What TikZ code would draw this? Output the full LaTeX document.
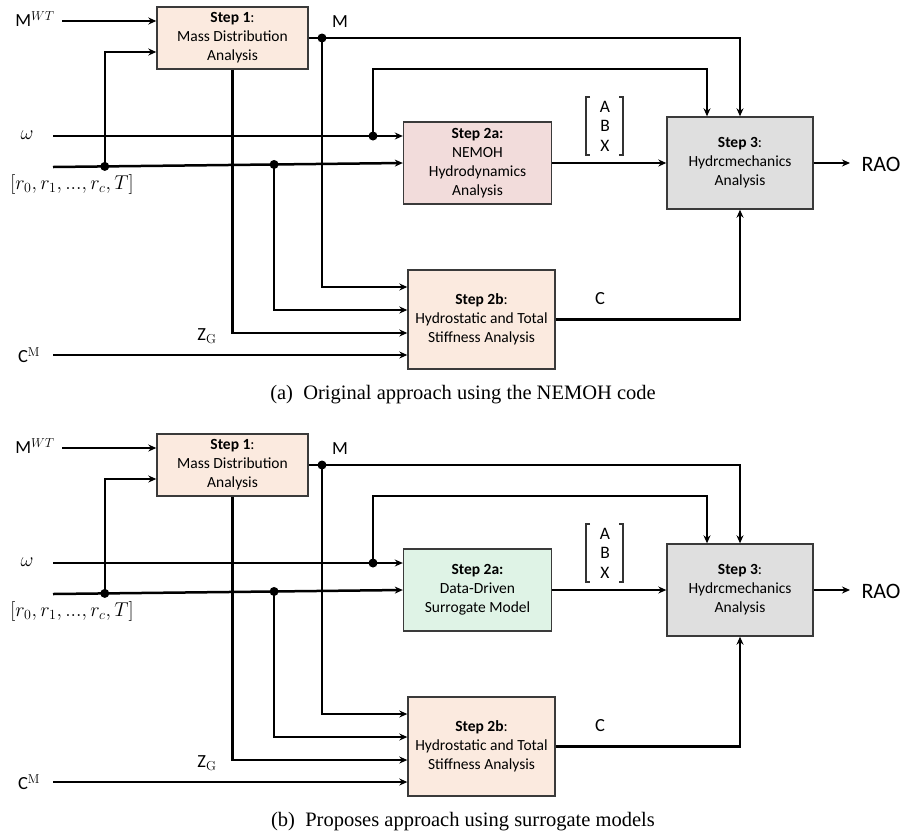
\RequirePackage{fix-cm}
\documentclass[tikz,border=0pt]{standalone}
\usepackage[no-math]{fontspec}
\setmainfont{Carlito}
\newfontfamily\capfont{Liberation Serif}
\usetikzlibrary{arrows.meta,calc}
\definecolor{peach}{HTML}{FBEADF}
\definecolor{pinkbox}{HTML}{F2DCDB}
\definecolor{graybox}{HTML}{DFDFDF}
\definecolor{greenbox}{HTML}{DFF3E6}
\definecolor{boxline}{HTML}{3A3A3A}
\definecolor{brkcol}{HTML}{333333}
\tikzset{
 stepbox/.style={draw=boxline, line width=1.4pt, inner sep=0pt, align=center, font=\fontsize{15.5}{19}\selectfont},
 conn/.style={line width=2.5pt, -{Stealth[length=8pt,width=7pt]}},
 dot/.style={circle, fill=black, inner sep=0pt, minimum size=9pt},
 lbl/.style={inner sep=0pt, font=\fontsize{18.5}{19}\selectfont},
 raolbl/.style={inner sep=0pt, font=\fontsize{22}{24}\selectfont},
 mlbl/.style={inner sep=0pt, font=\fontsize{20}{24}\selectfont},
 captext/.style={inner sep=0pt, font=\capfont\fontsize{20.5}{24}\selectfont},
 brk/.style={line width=1.1pt, draw=brkcol},
}
\newcommand\drawpanel[4]{%
\begin{scope}[yshift=-#2pt]
 % boxes
 \node[stepbox, fill=peach, minimum width=151pt, minimum height=62pt] (#1s1) at (232.5,38) {\textbf{Step 1}:\\Mass Distribution\\Analysis};
 \node[stepbox, fill=#3, minimum width=148pt, minimum height=82pt] (#1s2a) at (477.5,163) {#4};
 \node[stepbox, fill=graybox, minimum width=146pt, minimum height=92pt] (#1s3) at (740,163) {\textbf{Step 3}:\\Hydrcmechanics\\Analysis};
 \node[stepbox, fill=peach, minimum width=147pt, minimum height=99pt] (#1s2b) at (481.5,319.5) {\textbf{Step 2b}:\\Hydrostatic and Total\\Stiffness Analysis};
 % labels
 \node[lbl] (#1mwtl) at (35,19) {M$^{WT}$};
 \node[mlbl] (#1wl) at (27,135) {$\omega$};
 \node[mlbl] (#1rl) at (72,184) {$[r_0, r_1, ..., r_c, T]$};
 \node[lbl] (#1zgl) at (207,336) {Z$_\mathrm{G}$};
 \node[lbl] (#1cml) at (29,355) {C$^\mathrm{M}$};
 \node[lbl] (#1ml) at (340,22) {M};
 \node[lbl] (#1cl) at (600,299) {C};
 \node[raolbl] (#1rao) at (881,164) {RAO};
 \node[lbl, align=center, font=\fontsize{17.5}{19.5}\selectfont] (#1abx) at (605,126) {A\\B\\X};
 \draw[brk] (590,97) -- (586,97) -- (586,155) -- (590,155);
 \draw[brk] (619,97) -- (623,97) -- (623,155) -- (619,155);
 % start coordinates
 \coordinate (#1mwt) at (62,21);
 \coordinate (#1ws) at (53,136);
 \coordinate (#1rs) at (53,167);
 \coordinate (#1cs) at (53,355);
 \coordinate (#1raoend) at (850,163);
 % input lines
 \draw[conn] (#1mwt) -- (#1mwt -| #1s1.west);
 \draw[conn] (#1ws) -- (#1ws -| #1s2a.west);
 \draw[conn] (#1rs) -- (#1s2a.west);
 \draw[conn] (#1cs) -- (#1cs -| #1s2b.west);
 % dots
 \node[dot] (#1d1) at ($(#1rs)!0.148!(#1s2a.west)$) {};
 \node[dot] (#1d2) at ($(#1rs)!0.632!(#1s2a.west)$) {};
 \node[dot] (#1dw) at (373,136) {};
 \node[dot] (#1dm) at (322,38) {};
 % branches
 \draw[conn] (#1d1.center) |- (#1s1.west |- 0,52);
 \draw[conn] (#1s1.east) -- (740,38) -- (#1s3.north);
 \draw[conn] (#1dw.center) -- (373,69) -- (707,69) -- (#1s3.north -| 707,0);
 \draw[conn] (#1dm.center) |- (#1s2b.west |- 0,287);
 \draw[conn] (#1d2.center) |- (#1s2b.west |- 0,310);
 \draw[conn] (#1s1.south) |- (#1s2b.west |- 0,333);
 % outputs
 \draw[conn] (#1s2a.east) -- (#1s3.west);
 \draw[conn] (#1s2b.east) -| (#1s3.south);
 \draw[conn] (#1s3.east) -- (#1raoend);
\end{scope}}
\begin{document}
\begin{tikzpicture}[x=1pt,y=-1pt]
 \useasboundingbox (0,0) rectangle (917,836);
 \drawpanel{a}{0}{pinkbox}{\textbf{Step 2a:}\\NEMOH\\Hydrodynamics\\Analysis}
 \drawpanel{b}{427}{greenbox}{\textbf{Step 2a:}\\Data-Driven\\Surrogate Model}
 \node[captext] (capa) at (463,395) {(a)\ \ Original approach using the NEMOH code};
 \node[captext] (capb) at (463,822) {(b)\ \ Proposes approach using surrogate models};
\end{tikzpicture}
\end{document}
